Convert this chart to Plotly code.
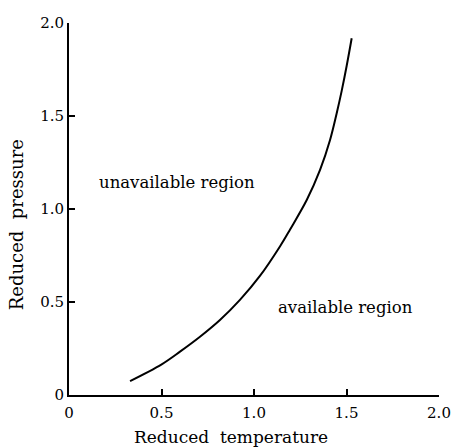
import plotly.graph_objects as go

# Data
temp = [0.330, 0.501, 0.600, 0.708, 0.816, 0.924, 1.032, 1.141, 1.195, 1.285, 1.357, 1.411, 1.447, 1.474, 1.501, 1.528]
pres = [0.075, 0.165, 0.233, 0.313, 0.403, 0.511, 0.640, 0.800, 0.890, 1.048, 1.210, 1.371, 1.515, 1.635, 1.770, 1.918]
tick_vals = [0, 0.5, 1.0, 1.5, 2.0]
tick_text = ["0", "0.5", "1.0", "1.5", "2.0"]

FONT = "DejaVu Serif"

fig = go.Figure()
fig.add_trace(go.Scatter(x=temp, y=pres, mode="lines",
                         line=dict(color="black", width=2, shape="spline", smoothing=1.0),
                         showlegend=False, hoverinfo="skip"))

fig.add_annotation(x=0.584, y=1.14, text="unavailable region", showarrow=False,
                   font=dict(family=FONT, size=16.5, color="black"))
fig.add_annotation(x=1.497, y=0.468, text="available region", showarrow=False,
                   font=dict(family=FONT, size=16.5, color="black"))
fig.add_annotation(x=0.438, y=-0.113, xref="paper", yref="paper", text="Reduced\u00a0 temperature",
                   xanchor="center", yanchor="middle",
                   showarrow=False, font=dict(family=FONT, size=17, color="black"))
fig.add_annotation(x=-0.14, y=0.457, xref="paper", yref="paper", text="Reduced\u00a0 pressure",
                   xanchor="center", yanchor="middle",
                   textangle=-90, showarrow=False, font=dict(family=FONT, size=18, color="black"))

axis_common = dict(tickvals=tick_vals, ticktext=tick_text, showgrid=False, zeroline=False,
                   showline=True, linecolor="black", linewidth=2, ticks="inside",
                   ticklen=6, tickwidth=1.5, tickcolor="black", automargin=False,
                   tickfont=dict(family=FONT, size=15, color="black"))
fig.update_xaxes(range=[0, 2.0], ticklabelstandoff=3, **axis_common)
fig.update_yaxes(range=[0, 2.0], **axis_common)

fig.update_layout(width=452, height=447, margin=dict(l=69, r=13, t=23, b=52, autoexpand=False),
                  plot_bgcolor="white", paper_bgcolor="white")

fig.write_html("out.html")
